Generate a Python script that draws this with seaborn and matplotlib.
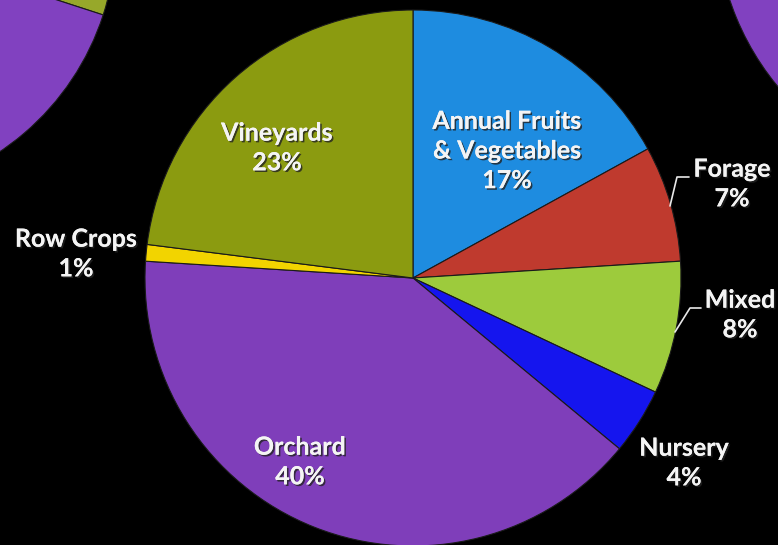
import matplotlib
matplotlib.use("Agg")
import matplotlib.pyplot as plt
import matplotlib.patheffects as pe
import seaborn as sns

# Farm type shares (percent)
categories = ["Annual Fruits\n& Vegetables", "Forage", "Mixed", "Nursery",
              "Orchard", "Row Crops", "Vineyards"]
shares = [17, 7, 8, 4, 40, 1, 23]
colors = ["#1e8ce0", "#bf3a2e", "#9dcb3c", "#1515ee",
          "#7f3eba", "#f2d400", "#8b9b10"]

# Neighbouring pies that are cut off at the corners
left_pie_shares = [30, 70]
left_pie_colors = ["#97a82a", "#8141c0"]
right_pie_shares = [100]
right_pie_colors = ["#8141c0"]

W, H = 778, 545

sns.set_theme(style="dark")
plt.rcParams["font.family"] = ["Lato", "DejaVu Sans"]

fig = plt.figure(figsize=(W / 100, H / 100), dpi=100, facecolor="black")
ax = fig.add_axes([0, 0, 1, 1])
ax.set_facecolor("black")


def to_data(x, y):
    """Convert top-left pixel coordinates to the axes data space."""
    return x, H - y


edge = dict(edgecolor="#1a1a1a", linewidth=0.8)

ax.pie(left_pie_shares, colors=left_pie_colors, startangle=90,
       counterclock=False, radius=262, center=to_data(-146, -66),
       wedgeprops=edge, frame=True)
ax.pie(right_pie_shares, colors=right_pie_colors, startangle=90,
       counterclock=False, radius=269, center=to_data(985, -85),
       wedgeprops=edge, frame=True)

cx, cy = to_data(413, 278)
ax.pie(shares, colors=colors, startangle=90, counterclock=False,
       radius=268, center=(cx, cy), wedgeprops=edge, frame=True)

# Label anchors (pixel positions) for each category
label_pos = [(507, 151), (732, 184), (740, 315), (684, 463),
             (300, 462), (76, 254), (277, 148)]

shadow = [pe.withSimplePatchShadow(offset=(1.2, -1.2), shadow_rgbFace="#222222",
                                   alpha=0.8), pe.Normal()]
for name, val, (px, py) in zip(categories, shares, label_pos):
    x, y = to_data(px, py)
    ax.text(x, y, f"{name}\n{val}%", ha="center", va="center",
            color="#f4f4f4", fontsize=18, fontweight="bold",
            linespacing=1.35, path_effects=shadow, zorder=5)

# Leader lines for the small slices on the right
leaders = [[(670, 206), (677, 177), (689, 177)],
           [(675, 332), (690, 308), (701, 308)]]
for pts in leaders:
    xs, ys = zip(*[to_data(a, b) for a, b in pts])
    ax.plot(xs, ys, color="#e8e8e8", linewidth=1.2, zorder=5)

ax.set_xlim(0, W)
ax.set_ylim(0, H)
ax.set_aspect("equal")
ax.axis("off")

fig.savefig("out.png", dpi=100, facecolor="black")
